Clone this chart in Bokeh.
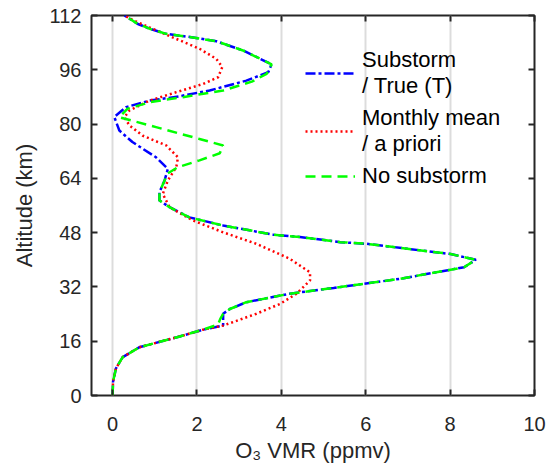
from bokeh.plotting import figure
from bokeh.models import Range1d, FixedTicker, LinearAxis, Legend, LegendItem
from bokeh.embed import file_html
from bokeh.resources import INLINE

# ---- data ----
x_ticks = [0, 2, 4, 6, 8, 10]
y_ticks = [0, 16, 32, 48, 64, 80, 96, 112]

# Substorm / True (T)
true_alt = [0, 4, 8, 11.3, 14.2, 17.4, 19.4, 20.6, 24.1, 25.5, 27.5, 30.0, 31.7, 34.4,
            37.8, 40.0, 41.7, 44.7, 45.2, 46.7, 47.4, 50.1, 52.5, 55.5, 57.5, 59.9,
            63.3, 66.8, 70.2, 74.7, 78.1, 82.1, 85.0, 86.9, 88.2, 89.9, 92.8, 95.3,
            97.6, 101.7, 104.4, 105.4, 106.6, 108.0, 109.5, 112]
true_vmr = [0.0, 0.01, 0.08, 0.24, 0.63, 1.59, 2.14, 2.62, 2.62, 2.78, 3.17, 4.2, 5.24, 6.82,
            8.33, 8.61, 8.01, 6.03, 5.4, 4.44, 3.81, 2.62, 1.82, 1.35, 1.11, 1.11,
            1.23, 1.31, 1.03, 0.47, 0.16, 0.04, 0.32, 0.87, 1.59, 2.3, 3.17, 3.69,
            3.77, 3.09, 2.46, 1.98, 1.27, 0.9, 0.6, 0.28]

# Monthly mean / a priori
apr_alt = [0, 4, 8, 11.3, 14.2, 17.4, 19.4, 20.6, 21.3, 24.1, 27.0, 30.0, 33.9, 36.3,
           40.3, 44.7, 48.1, 51.6, 55.5, 59.4, 63.4, 67.3, 70.2, 73.7, 76.6, 79.6,
           82.0, 84.0, 86.9, 89.4, 91.8, 93.8, 96.8, 99.2, 102.2, 105.1, 108.5, 110.5, 112]
apr_vmr = [0.0, 0.01, 0.08, 0.24, 0.63, 1.59, 2.14, 2.62, 2.78, 3.41, 3.97, 4.36, 4.68, 4.68,
           4.2, 3.41, 2.62, 1.9, 1.35, 1.19, 1.31, 1.51, 1.55, 1.27, 0.71, 0.4,
           0.28, 0.4, 0.87, 1.51, 2.14, 2.5, 2.6, 2.46, 2.06, 1.51, 0.87, 0.5, 0.28]

# No substorm
nos_alt = [0, 4, 8, 11.3, 14.2, 17.4, 19.4, 20.9, 22.5, 24.1, 25.5, 27.5, 30.0, 31.7, 34.4,
           37.8, 40.0, 41.7, 44.7, 45.2, 46.7, 47.4, 50.1, 52.5, 55.5, 57.5, 59.9,
           63.3, 65.5, 67.3, 69.3, 71.4, 73.7, 75.6, 79.1, 82.0, 84.5, 86.5, 88.0,
           89.9, 92.5, 94.8, 97.6, 101.7, 104.4, 105.4, 106.6, 108.0, 109.5, 112]
nos_vmr = [0.0, 0.01, 0.08, 0.24, 0.63, 1.59, 2.14, 2.5, 2.55, 2.62, 2.78, 3.17, 4.2, 5.24, 6.82,
           8.33, 8.61, 8.01, 6.03, 5.4, 4.44, 3.81, 2.62, 1.82, 1.35, 1.11, 1.11,
           1.23, 1.31, 1.55, 2.06, 2.54, 2.62, 2.06, 1.03, 0.16, 0.35, 0.9, 1.7,
           2.62, 3.3, 3.65, 3.77, 3.09, 2.46, 1.98, 1.27, 0.9, 0.6, 0.28]

labels = ["Substorm\n/ True (T)", "Monthly mean\n/ a priori", "No substorm"]

# ---- figure ----
FONT = "Liberation Sans"
TXT = "#262626"

p = figure(width=547, height=469, x_range=Range1d(-0.5, 10), y_range=Range1d(0, 112),
           output_backend="svg", toolbar_location=None,
           min_border_left=91, min_border_right=13, min_border_top=15, min_border_bottom=74)
p.background_fill_color = "white"
p.border_fill_color = "white"
p.outline_line_color = TXT
p.outline_line_width = 2

p.xgrid.ticker = FixedTicker(ticks=x_ticks)
p.xgrid.grid_line_color = "#dcdcdc"
p.xgrid.grid_line_width = 2
p.ygrid.grid_line_color = None

bottom_ax = p.below[0]
left_ax = p.left[0]
bottom_ax.ticker = FixedTicker(ticks=x_ticks)
left_ax.ticker = FixedTicker(ticks=y_ticks)
bottom_ax.axis_label = "O\u2083 VMR (ppmv)"
left_ax.axis_label = "Altitude (km)"

# mirror axes on top/right: tick marks only (drawn as minor ticks, no labels)
top_ax = LinearAxis(ticker=FixedTicker(ticks=[], minor_ticks=x_ticks))
right_ax = LinearAxis(ticker=FixedTicker(ticks=[], minor_ticks=y_ticks))
p.add_layout(top_ax, "above")
p.add_layout(right_ax, "right")

for ax in [bottom_ax, left_ax]:
    ax.axis_line_color = None
    ax.major_tick_in = 6
    ax.major_tick_out = 0
    ax.major_tick_line_color = TXT
    ax.major_tick_line_width = 2
    ax.minor_tick_line_color = None
    ax.major_label_text_font = FONT
    ax.major_label_text_font_size = "20px"
    ax.major_label_text_color = TXT
    ax.axis_label_text_font = FONT
    ax.axis_label_text_font_size = "22px"
    ax.axis_label_text_font_style = "normal"
    ax.axis_label_text_color = TXT

for ax in [top_ax, right_ax]:
    ax.axis_line_color = None
    ax.major_tick_line_color = None
    ax.minor_tick_in = 6
    ax.minor_tick_out = 0
    ax.minor_tick_line_color = TXT
    ax.minor_tick_line_width = 2
    ax.major_label_standoff = 0

bottom_ax.major_label_standoff = 21
bottom_ax.axis_label_standoff = 4
left_ax.major_label_standoff = 10
left_ax.axis_label_standoff = 10

r1 = p.line(true_vmr, true_alt, line_color="#0000ff", line_width=2.5, line_dash="10 3 3 3")
r2 = p.line(apr_vmr, apr_alt, line_color="#ff0000", line_width=2.5, line_dash="2 3")
r3 = p.line(nos_vmr, nos_alt, line_color="#00ff00", line_width=2.5, line_dash="10 6")

legend = Legend(items=[LegendItem(label=labels[0], renderers=[r1]),
                       LegendItem(label=labels[1], renderers=[r2]),
                       LegendItem(label=labels[2], renderers=[r3])],
                location=(214, 206))
legend.background_fill_alpha = 0
legend.border_line_color = None
legend.padding = 0
legend.margin = 0
legend.spacing = 6
legend.glyph_width = 50
legend.label_standoff = 7
legend.label_text_font = FONT
legend.label_text_font_size = "22px"
legend.label_text_color = "black"
legend.label_text_line_height = 1.1
p.add_layout(legend)

open("out.html", "w").write(file_html(p, INLINE))
